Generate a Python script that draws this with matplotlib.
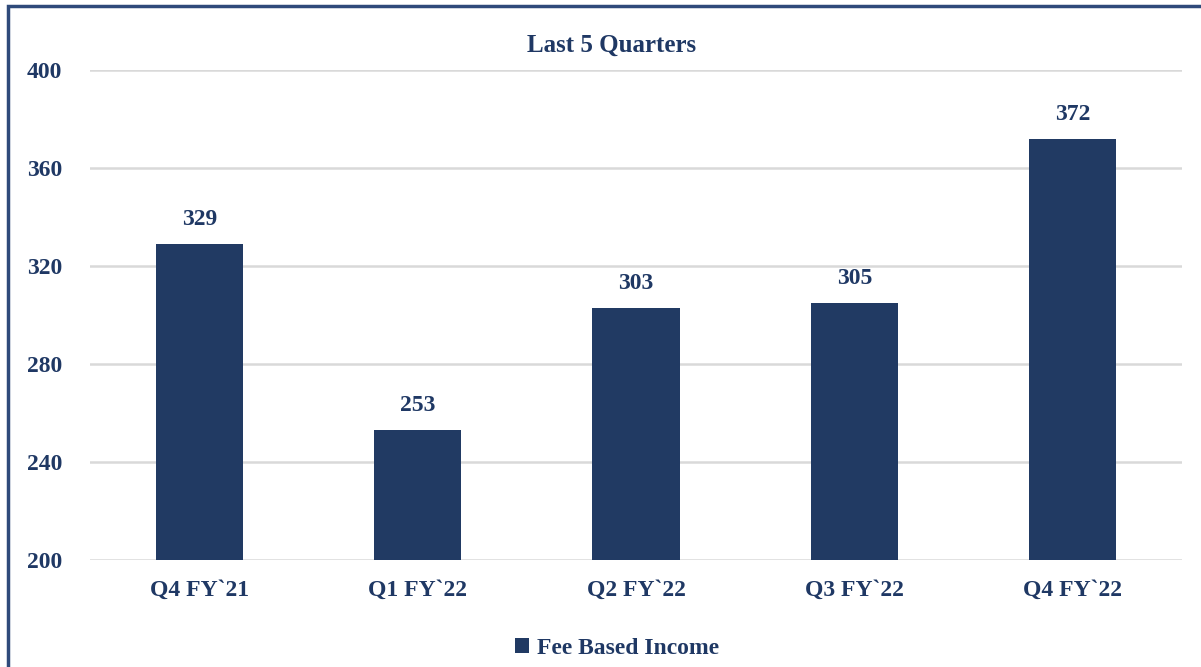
import numpy as np
import matplotlib.pyplot as plt
from matplotlib.patches import Rectangle

quarters = ["Q4 FY`21", "Q1 FY`22", "Q2 FY`22", "Q3 FY`22", "Q4 FY`22"]
fee_income = [329, 253, 303, 305, 372]
yticks = [200, 240, 280, 320, 360, 400]

navy = "#213A63"
text_col = "#1F3864"
plt.rcParams['font.family'] = ['Liberation Serif', 'DejaVu Serif']

fig = plt.figure(figsize=(12.01, 6.67), dpi=100)
ax = fig.add_axes([90/1201, 1 - 560/667, 1092/1201, 490/667])

x = np.arange(len(quarters))
bars = ax.bar(x, fee_income, width=0.40, color=navy, zorder=3, label="Fee Based Income")

for xi, v in zip(x, fee_income):
    ax.annotate(f"{v}", (xi, v), xytext=(0, 10), textcoords="offset points",
                ha="center", va="bottom", fontsize=17, fontweight="bold", color=text_col)

ax.set_xlim(-0.5, len(quarters) - 0.5)
ax.set_ylim(200, 400)
ax.set_yticks(yticks)
ax.set_xticks(x)
ax.set_xticklabels(quarters)
ax.grid(axis="y", color="#D9D9D9", linewidth=1.8, zorder=0)
for s in ax.spines.values():
    s.set_visible(False)
ax.tick_params(length=0, labelsize=17, labelcolor=text_col, pad=20)
ax.tick_params(axis="x", pad=14)
for lab in ax.get_xticklabels() + ax.get_yticklabels():
    lab.set_fontweight("bold")

fig.text(612/1201, 1 - 45/667, "Last 5 Quarters", ha="center", va="center",
         fontsize=18, fontweight="bold", color=text_col)

leg = fig.legend(handles=[bars], loc="center", bbox_to_anchor=(617/1201, 1 - 648/667),
                 frameon=False, handlelength=0.6, handleheight=0.6, handletextpad=0.3,
                 prop={"weight": "bold", "size": 17})
for t in leg.get_texts():
    t.set_color(text_col)

fig.patches.append(Rectangle((8/1201, -0.1), 1.2, 1 - 6/667 + 0.1, transform=fig.transFigure,
                             fill=False, edgecolor="#2F4A7A", linewidth=2.5))

fig.savefig("out.png", dpi=100)
